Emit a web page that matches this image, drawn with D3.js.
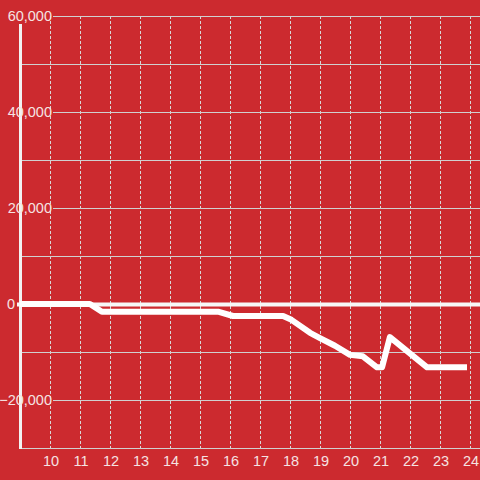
<!DOCTYPE html>
<html>
<head>
<meta charset="utf-8">
<script src="https://cdn.jsdelivr.net/npm/d3@7"></script>
<style>
  html, body { margin: 0; padding: 0; background: #cc2a2f; }
  svg { display: block; }
</style>
</head>
<body>
<div id="chart"></div>
<script>
// series
const xValues = [9, 11.33, 11.73, 15.6, 16.1, 17.77, 18.05, 18.67, 19.0, 19.5, 20.0, 20.43, 20.9, 21.07, 21.33, 22.57, 23.9];
const yValues = [0, 0, -1600, -1600, -2500, -2500, -3300, -6000, -7100, -8700, -10600, -10900, -13200, -13200, -6900, -13200, -13200];

const xTicks = [10, 11, 12, 13, 14, 15, 16, 17, 18, 19, 20, 21, 22, 23, 24];
const yGrid = [60000, 50000, 40000, 30000, 20000, 10000, -10000, -20000];
const yLabels = [60000, 40000, 20000, 0, -20000];

const width = 480, height = 480;
const margin = { top: 16, right: 0, bottom: 32, left: 20 };

const svg = d3.select('#chart')
  .append('svg')
  .attr('width', width)
  .attr('height', height);

svg.append('rect')
  .attr('width', width)
  .attr('height', height)
  .attr('fill', '#cc2a2f');

const x = d3.scaleLinear()
  .domain([9, 9 + (width - margin.left) / 30])
  .range([margin.left, width - margin.right]);

const y = d3.scaleLinear()
  .domain([-30000, 60000])
  .range([height - margin.bottom, margin.top]);

const fmt = d3.format(',');
const labelEnd = 52;

// vertical dashed grid
svg.append('g')
  .selectAll('line')
  .data(xTicks)
  .enter().append('line')
  .attr('x1', d => Math.round(x(d)) + 0.5)
  .attr('x2', d => Math.round(x(d)) + 0.5)
  .attr('y1', y(60000))
  .attr('y2', y(-30000))
  .attr('stroke', '#d8d8d8')
  .attr('stroke-width', 1)
  .attr('stroke-dasharray', '3,2');

// horizontal grid
svg.append('g')
  .selectAll('line')
  .data(yGrid)
  .enter().append('line')
  .attr('x1', d => yLabels.includes(d) ? labelEnd + 1 : margin.left + 2)
  .attr('x2', width)
  .attr('y1', d => Math.round(y(d)) + 0.5)
  .attr('y2', d => Math.round(y(d)) + 0.5)
  .attr('stroke', '#d0d0d0')
  .attr('stroke-width', 1);

// bottom line
svg.append('line')
  .attr('x1', margin.left + 2)
  .attr('x2', width)
  .attr('y1', y(-30000) + 0.5)
  .attr('y2', y(-30000) + 0.5)
  .attr('stroke', '#d0d0d0')
  .attr('stroke-width', 1);

// y axis line
svg.append('line')
  .attr('x1', margin.left + 0.5)
  .attr('x2', margin.left + 0.5)
  .attr('y1', y(60000) + 8)
  .attr('y2', y(-30000) + 1)
  .attr('stroke', '#f2f2f2')
  .attr('stroke-width', 3);

// zero line
svg.append('line')
  .attr('x1', 17)
  .attr('x2', width)
  .attr('y1', y(0) + 0.5)
  .attr('y2', y(0) + 0.5)
  .attr('stroke', '#f7f7f7')
  .attr('stroke-width', 4);

// y labels
svg.append('g')
  .selectAll('text')
  .data(yLabels)
  .enter().append('text')
  .attr('x', d => d === 0 ? 15 : labelEnd)
  .attr('y', d => y(d))
  .attr('dy', '0.36em')
  .attr('text-anchor', 'end')
  .attr('font-family', 'Liberation Sans, Arial, sans-serif')
  .attr('font-size', '14.5px')
  .attr('fill', '#f5e3e3')
  .text(d => fmt(d));

// x labels
svg.append('g')
  .selectAll('text')
  .data(xTicks)
  .enter().append('text')
  .attr('x', d => x(d) + 1)
  .attr('y', 466)
  .attr('text-anchor', 'middle')
  .attr('font-family', 'Liberation Sans, Arial, sans-serif')
  .attr('font-size', '14.5px')
  .attr('fill', '#f5e3e3')
  .text(d => d);

// series line
const data = xValues.map((v, i) => ({ x: v, y: yValues[i] }));
const line = d3.line()
  .x(d => x(d.x))
  .y(d => y(d.y));

svg.append('path')
  .datum(data)
  .attr('d', line)
  .attr('fill', 'none')
  .attr('stroke', '#ffffff')
  .attr('stroke-width', 6)
  .attr('stroke-linejoin', 'round');
</script>
</body>
</html>
